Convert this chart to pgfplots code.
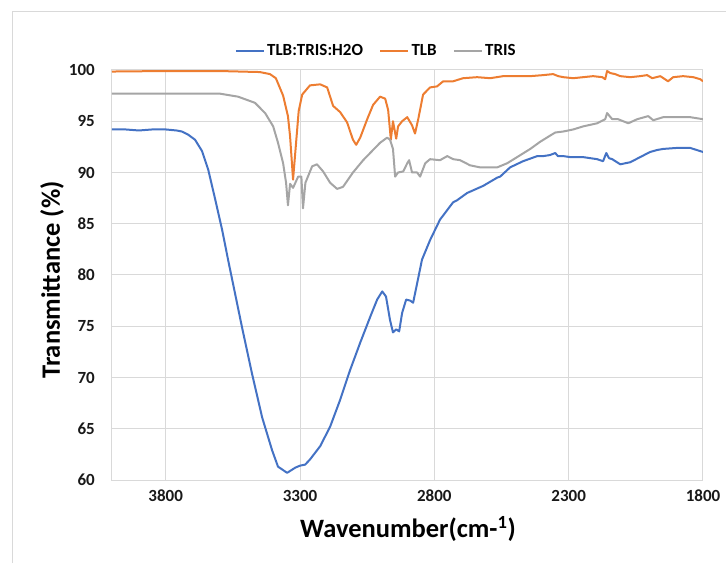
\documentclass[border=0pt]{standalone}
\usepackage{pgfplots}
\pgfplotsset{compat=1.18}
\usepackage{pgfplotstable}
\usepackage{fontspec}
\setmainfont{Carlito}

\definecolor{sBlue}{HTML}{4472C4}
\definecolor{sOrange}{HTML}{ED7D31}
\definecolor{sGray}{HTML}{A5A5A5}
\definecolor{gridgray}{HTML}{D9D9D9}

% FTIR spectra: wavenumber (cm^-1), transmittance (%)
\pgfplotstableread{
wn T
4000 94.2
3950 94.2
3900 94.1
3850 94.2
3800 94.2
3760 94.1
3740 94.0
3717 93.7
3691 93.2
3665 92.1
3642 90.3
3616 87.4
3590 84.4
3568 81.5
3553 79.6
3516 74.9
3479 70.4
3441 66.1
3404 62.9
3382 61.3
3348 60.7
3318 61.2
3300 61.4
3281 61.5
3263 62.0
3225 63.3
3188 65.2
3151 67.8
3114 70.7
3076 73.4
3039 75.9
3013 77.6
2994 78.4
2980 77.9
2965 75.6
2954 74.4
2942 74.7
2931 74.5
2920 76.3
2905 77.6
2890 77.5
2879 77.3
2864 79.2
2846 81.5
2816 83.4
2779 85.4
2730 87.1
2715 87.3
2678 88.0
2618 88.7
2566 89.5
2555 89.6
2518 90.5
2470 91.1
2417 91.6
2395 91.6
2370 91.7
2350 91.9
2340 91.6
2320 91.6
2294 91.5
2246 91.5
2194 91.3
2172 91.1
2160 91.9
2150 91.4
2138 91.3
2108 90.8
2071 91.0
2034 91.5
1997 92.0
1970 92.2
1948 92.3
1896 92.4
1848 92.4
1800 92.0
}\mixture

\pgfplotstableread{
wn T
4000 99.85
3800 99.9
3600 99.9
3450 99.8
3412 99.6
3390 99.2
3363 97.5
3345 95.5
3337 93.5
3326 89.3
3316 92.5
3305 96.0
3292 97.6
3263 98.5
3225 98.6
3199 98.3
3177 96.5
3151 95.9
3125 94.9
3103 93.2
3091 92.7
3076 93.4
3050 95.2
3028 96.6
3002 97.4
2983 97.2
2972 96.1
2962 93.2
2954 95.0
2942 93.3
2935 94.5
2920 95.0
2901 95.4
2883 94.6
2872 93.8
2860 95.2
2842 97.6
2816 98.3
2790 98.4
2767 98.9
2730 98.9
2693 99.2
2641 99.3
2592 99.2
2544 99.4
2492 99.4
2443 99.4
2395 99.5
2358 99.6
2339 99.4
2320 99.3
2283 99.2
2246 99.3
2209 99.4
2175 99.3
2164 99.1
2157 99.9
2145 99.7
2127 99.6
2108 99.4
2071 99.3
2034 99.4
2008 99.5
1989 99.2
1959 99.4
1930 98.9
1911 99.3
1874 99.4
1836 99.3
1810 99.1
1800 98.9
}\tlb

\pgfplotstableread{
wn T
4000 97.7
3800 97.7
3600 97.7
3531 97.4
3468 96.8
3430 95.8
3400 94.5
3382 92.9
3363 90.9
3352 89.0
3345 86.8
3337 88.9
3326 88.5
3307 89.6
3295 89.6
3289 86.5
3280 89.0
3255 90.6
3237 90.8
3214 90.1
3188 89.0
3162 88.4
3140 88.6
3103 90.0
3065 91.2
3028 92.2
3002 92.9
2976 93.4
2965 93.2
2954 92.3
2946 89.6
2935 90.0
2916 90.1
2901 90.9
2894 91.2
2883 90.0
2864 90.0
2853 89.6
2834 90.9
2816 91.3
2779 91.2
2752 91.6
2730 91.3
2704 91.2
2667 90.7
2630 90.5
2566 90.5
2529 90.9
2492 91.5
2443 92.3
2406 93.0
2369 93.6
2350 93.9
2320 94.0
2283 94.2
2246 94.5
2194 94.8
2164 95.2
2157 95.8
2138 95.2
2116 95.2
2078 94.8
2045 95.2
2004 95.5
1985 95.1
1948 95.4
1896 95.4
1848 95.4
1800 95.2
}\tris

\begin{document}
\begin{tikzpicture}
\path[use as bounding box] (0pt,0pt) rectangle (726pt,563pt);
% chart area frame
\draw[gridgray, line width=1pt] (12pt,0pt) -- (12pt,551pt) -- (726pt,551pt);
\begin{axis}[
  at={(112pt,83pt)}, anchor=south west,
  scale only axis, width=591pt, height=410pt,
  x dir=reverse,
  xmin=1800, xmax=4000, ymin=60, ymax=100,
  xtick={1800,2300,2800,3300,3800},
  ytick={60,65,...,100},
  grid=major,
  major grid style={gridgray, line width=1pt},
  axis line style={gridgray, line width=1pt},
  major tick length=0pt,
  /pgf/number format/assume math mode=true,
  /pgf/number format/1000 sep={},
  ticklabel style={font=\fontsize{17}{20}\selectfont\bfseries, text=black!90},
  xticklabel style={anchor=north, inner sep=0pt, yshift=-10pt},
  yticklabel style={anchor=east, inner sep=0pt, xshift=-17pt},
  legend columns=3,
  legend style={at={(axis description cs:0.447,1.046)}, anchor=center,
    draw=none, fill=none, font=\fontsize{17}{20}\selectfont\bfseries,
    /tikz/every even column/.append style={column sep=14pt}},
  legend image code/.code={\draw[#1, line width=2.5pt] (0pt,0pt) -- (28pt,0pt);},
  every axis plot/.append style={line width=2pt, line join=round},
]
\addplot[sBlue] table[x=wn, y=T] {\mixture};
\addlegendentry{TLB:TRIS:H2O}
\addplot[sOrange] table[x=wn, y=T] {\tlb};
\addlegendentry{TLB}
\addplot[sGray] table[x=wn, y=T] {\tris};
\addlegendentry{TRIS}
\end{axis}
\node[rotate=90, font=\fontsize{26.5}{31}\selectfont\bfseries] at (52pt,283pt) {Transmittance (\%)};
\node[font=\fontsize{26.5}{31}\selectfont\bfseries] at (408pt,34pt) {Wavenumber(cm-\textsuperscript{1})};
\end{tikzpicture}
\end{document}
